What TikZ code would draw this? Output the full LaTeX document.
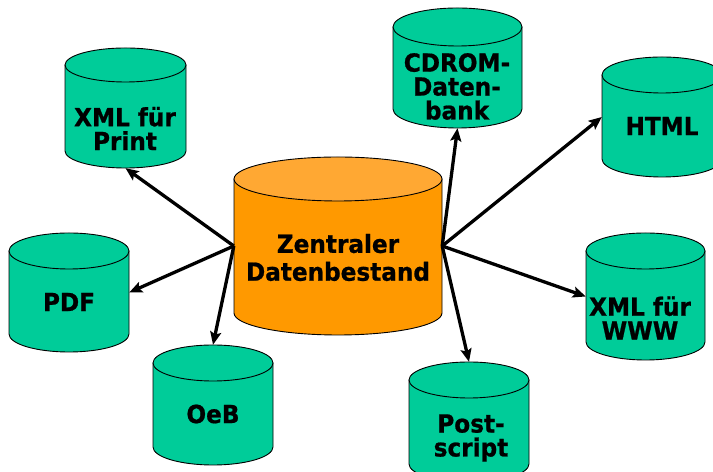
\documentclass[tikz,border=0pt]{standalone}
\usepackage{fontspec}
\newfontfamily\lbl{DejaVu Sans}[FakeStretch=0.93,FakeBold=0.8]
\usetikzlibrary{arrows.meta}
\definecolor{tealdb}{HTML}{00CC99}
\definecolor{orbody}{HTML}{FF9900}
\definecolor{ortop}{HTML}{FFA833}
\tikzset{
  cylline/.style={draw=black, line width=0.9bp},
  dbbox/.style={draw=none, inner sep=0pt, minimum width=#1},
  lbltext/.style={align=center, inner sep=0pt, font=\lbl\bfseries\fontsize{25}{24}\selectfont},
  bigtext/.style={align=center, inner sep=0pt, font=\lbl\bfseries\fontsize{25}{28}\selectfont},
  arr/.style={line width=3.3bp, -{Stealth[length=13bp,width=11bp,inset=2.5bp]}}
}
% #1 name, #2 L, #3 R, #4 top (image y), #5 bottom (image y), #6 ry, #7 body colour, #8 top colour
\newcommand\dbcyl[8]{%
  \pgfmathsetmacro\cx{(#2+#3)/2}%
  \pgfmathsetmacro\rx{(#3-#2)/2}%
  \pgfmathsetmacro\ww{#3-#2}%
  \pgfmathsetmacro\hh{#5-#4}%
  \pgfmathsetmacro\yt{472-#4-#6}%
  \pgfmathsetmacro\yb{472-#5+#6}%
  \pgfmathsetmacro\ym{472-(#4+#5)/2}%
  \filldraw[cylline, fill=#7] (#2,\yt) -- (#2,\yb) arc[start angle=180,end angle=360,x radius=\rx,y radius=#6] -- (#3,\yt) -- cycle;
  \filldraw[cylline, fill=#8] (\cx,\yt) ellipse[x radius=\rx, y radius=#6];
  \node[dbbox=\ww bp, minimum height=\hh bp] (#1) at (\cx,\ym) {};
}
\begin{document}
\begin{tikzpicture}[x=1bp,y=1bp]
\useasboundingbox[fill=white] (0,0) rectangle (713,472);
% cylinders
\dbcyl{print}{65}{186}{48}{168}{17}{tealdb}{tealdb}
\dbcyl{cdrom}{393}{522}{8}{128}{19}{tealdb}{tealdb}
\dbcyl{html}{602}{722}{57}{177}{18}{tealdb}{tealdb}
\dbcyl{pdf}{9}{129}{233}{352}{18}{tealdb}{tealdb}
\dbcyl{oeb}{153}{273}{345}{465}{18}{tealdb}{tealdb}
\dbcyl{www}{586}{705}{233}{360}{18}{tealdb}{tealdb}
\dbcyl{post}{409}{529}{362}{482}{18}{tealdb}{tealdb}
\dbcyl{zentral}{234}{442}{157}{335}{22}{orbody}{ortop}
% labels
\node[bigtext] (zentral-t) at (338,{472-257.5}) {Zentraler\\Datenbestand};
\node[lbltext] (print-t) at (125,{472-128.5}) {XML für\\Print};
\node[lbltext] (cdrom-t) at (457,{472-86.5}) {CDROM-\\Daten-\\bank};
\node[lbltext] (html-t) at (662,{472-126}) {HTML};
\node[lbltext] (pdf-t) at (69,{472-302}) {PDF};
\node[lbltext] (oeb-t) at (213,{472-414}) {OeB};
\node[lbltext] (www-t) at (640,{472-318}) {XML für\\WWW};
\node[lbltext] (post-t) at (471,{472-438}) {Post-\\script};
% connectors
\draw[arr] (zentral.west) -- (print.south);
\draw[arr] (zentral.west) -- (pdf.east);
\draw[arr] (zentral.west) -- (oeb.north);
\draw[arr] (zentral.east) -- (cdrom.south);
\draw[arr] (zentral.east) -- (html.west);
\draw[arr] (zentral.east) -- (www.west);
\draw[arr] (zentral.east) -- (post.north);
\end{tikzpicture}
\end{document}
